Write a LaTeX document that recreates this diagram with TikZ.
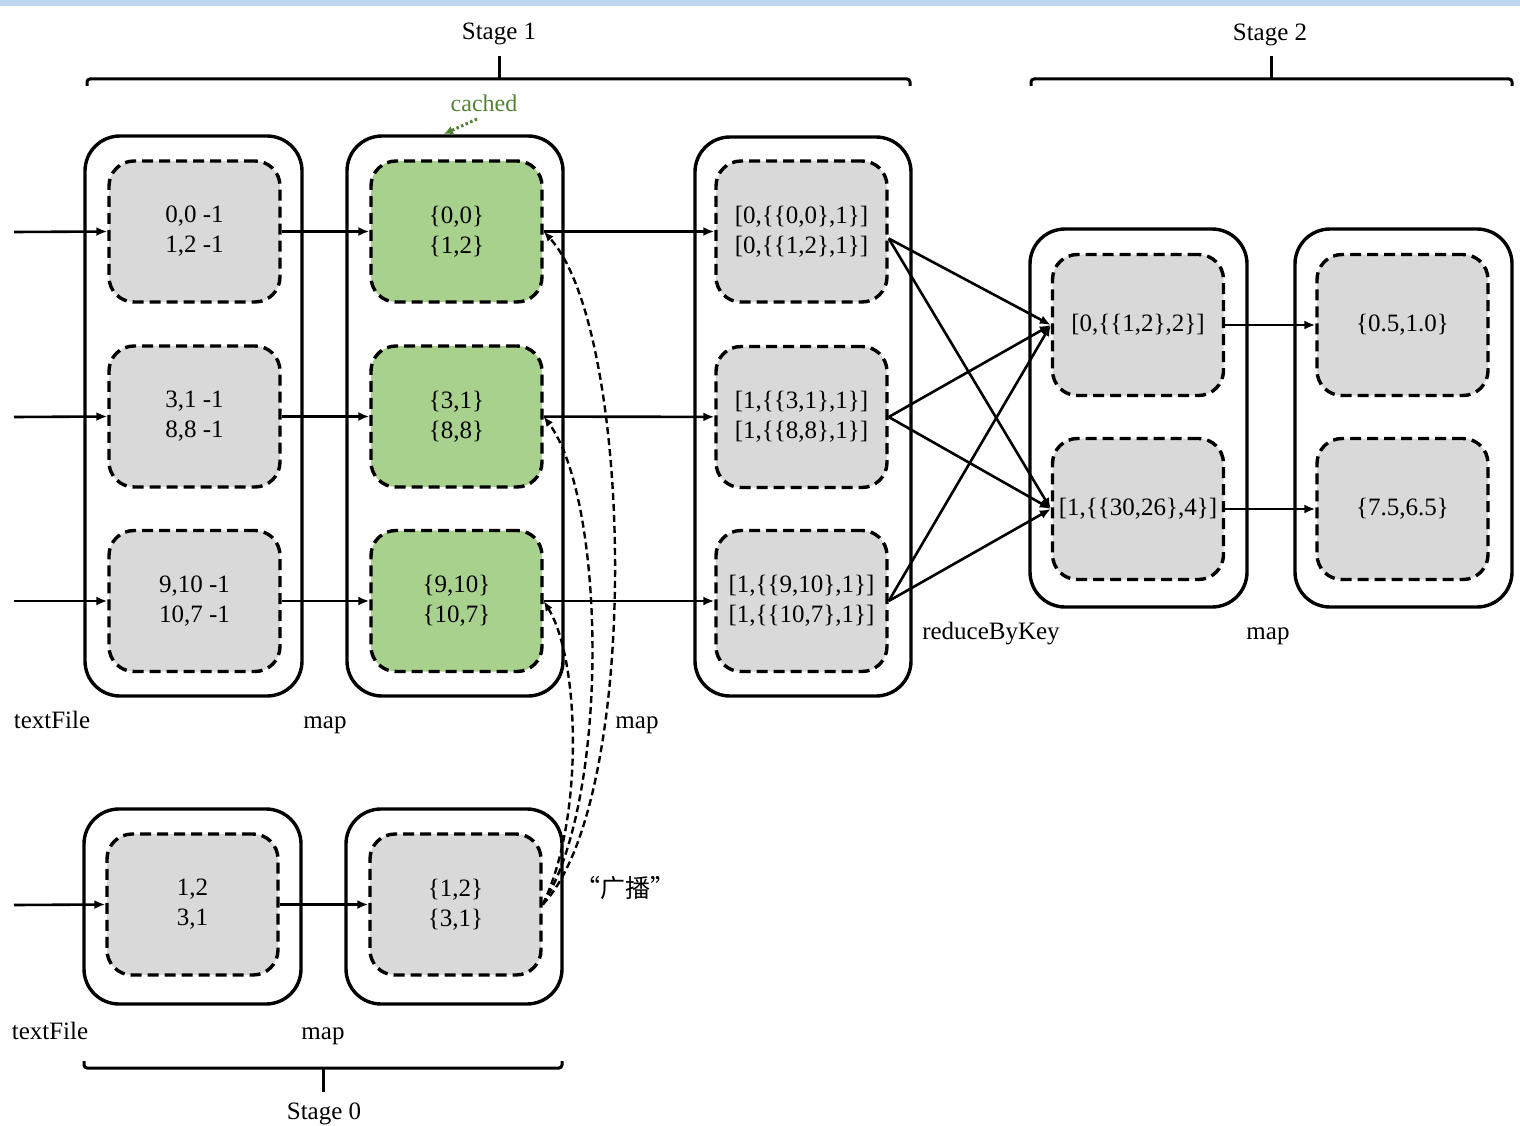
\documentclass[tikz,border=0pt]{standalone}
\usepackage{fontspec}
\setmainfont{Liberation Serif}
\newfontfamily\cjkfont{Noto Sans CJK SC}
\usetikzlibrary{arrows.meta,calc}
\definecolor{gfill}{HTML}{A9D18E}
\definecolor{grayfill}{HTML}{D9D9D9}
\definecolor{gtext}{HTML}{548235}
\definecolor{bandblue}{HTML}{BDD7EE}
\newcommand\dfont{\fontsize{25}{30}\selectfont}
\begin{document}
\begin{tikzpicture}[x=1pt,y=-1pt,
  outerbox/.style={draw, line width=3.4pt, rounded corners=35pt, inner sep=0pt},
  innerbox/.style={draw, line width=3.4pt, dash pattern=on 11pt off 6pt, rounded corners=25pt,
    fill=grayfill, minimum width=171pt, minimum height=141pt, align=center, font=\dfont, inner sep=0pt},
  greenbox/.style={innerbox, fill=gfill},
  lbl/.style={font=\dfont, inner sep=0pt, anchor=base},
  arr/.style={line width=2.6pt, -{Latex[length=11pt,width=9pt]}},
  darr/.style={line width=2.4pt, dash pattern=on 7pt off 4pt, -{Latex[length=10pt,width=8pt]}},
  bracket/.style={line width=3pt, rounded corners=3pt}
]
\useasboundingbox (0,0) rectangle (1520,1126);
\fill[bandblue] (0,0) rectangle (1520,6);

% outer boxes
\node[outerbox, minimum width=217pt, minimum height=560pt] (o1) at (193.5,416) {};
\node[outerbox, minimum width=216pt, minimum height=560pt] (o2) at (455,416) {};
\node[outerbox, minimum width=216pt, minimum height=559pt] (o3) at (803,416.5) {};
\node[outerbox, minimum width=217pt, minimum height=378pt] (oA) at (1138.5,418) {};
\node[outerbox, minimum width=217pt, minimum height=378pt] (oB) at (1403.5,418) {};
\node[outerbox, minimum width=217pt, minimum height=195pt] (ob1) at (192.5,906.5) {};
\node[outerbox, minimum width=216pt, minimum height=195pt] (ob2) at (454,906.5) {};

% inner boxes
\node[innerbox] (r1) at (194.5,231.5) {0,0 -1\\1,2 -1};
\node[innerbox] (r2) at (194.5,416.5) {3,1 -1\\8,8 -1};
\node[innerbox] (r3) at (194.5,601) {9,10 -1\\10,7 -1};
\node[greenbox] (g1) at (456.5,231.5) {\{0,0\}\\\{1,2\}};
\node[greenbox] (g2) at (456.5,416.5) {\{3,1\}\\\{8,8\}};
\node[greenbox] (g3) at (456.5,601) {\{9,10\}\\\{10,7\}};
\node[innerbox] (c1) at (801.5,231.5) {[0,\{\{0,0\},1\}]\\{}[0,\{\{1,2\},1\}]};
\node[innerbox] (c2) at (801.5,417) {[1,\{\{3,1\},1\}]\\{}[1,\{\{8,8\},1\}]};
\node[innerbox] (c3) at (801.5,601) {[1,\{\{9,10\},1\}]\\{}[1,\{\{10,7\},1\}]};
\node[innerbox] (a1) at (1138,325) {[0,\{\{1,2\},2\}]};
\node[innerbox] (a2) at (1138,509) {[1,\{\{30,26\},4\}]};
\node[innerbox] (b1) at (1402.5,325) {\{0.5,1.0\}};
\node[innerbox] (b2) at (1402.5,509) {\{7.5,6.5\}};
\node[innerbox] (s1) at (192.5,904.5) {1,2\\3,1};
\node[innerbox] (s2) at (455.5,904.5) {\{1,2\}\\\{3,1\}};

% inputs
\coordinate (i1) at (14,232);
\coordinate (i2) at (14,417);
\coordinate (i3) at (14,601);
\coordinate (i4) at (14,905);
\draw[arr] (i1) -- (r1.west);
\draw[arr] (i2) -- (r2.west);
\draw[arr] (i3) -- (r3.west);
\draw[arr] (i4) -- (s1.west);
\draw[arr] (r1) -- (g1);
\draw[arr] (r2) -- (g2);
\draw[arr] (r3) -- (g3);
\draw[arr] (g1) -- (c1);
\draw[arr] (g2) -- (c2);
\draw[arr] (g3) -- (c3);
\draw[arr] (s1) -- (s2);
\draw[arr] (a1) -- (b1);
\draw[arr] (a2) -- (b2);

% shuffle
\draw[arr] ([yshift=-7pt]c1.east) -- (a1.west);
\draw[arr] ([yshift=-7pt]c1.east) -- (a2.west);
\draw[arr] (c2.east) -- (a1.west);
\draw[arr] (c2.east) -- (a2.west);
\draw[arr] (c3.east) -- (a1.west);
\draw[arr] (c3.east) -- (a2.west);

% broadcast curves
\draw[darr] (s2.east) .. controls (642,800) and (634,330) .. (g1.east);
\draw[darr] (s2.east) .. controls (610,800) and (606,500) .. (g2.east);
\draw[darr] (s2.east) .. controls (584,820) and (580,660) .. (g3.east);

% cached
\node[font=\fontsize{24}{28}\selectfont, text=gtext, inner sep=0pt, anchor=base] (cached) at (484,112) {cached};
\coordinate (cs) at (477,119);
\draw[gtext, line width=3pt, dash pattern=on 2.5pt off 2.5pt, -{Latex[length=9pt,width=9pt]}] (cs) -- (444,134);

% labels
\node[lbl] (l1) at (52,728) {textFile};
\node[lbl] (l2) at (325,728) {map};
\node[lbl] (l3) at (637,728) {map};
\node[lbl] (l4) at (991,639) {reduceByKey};
\node[lbl] (l5) at (1268,639) {map};
\node[lbl] (l6) at (50,1039) {textFile};
\node[lbl] (l7) at (323,1039) {map};
\node[font=\cjkfont\fontsize{25}{28}\selectfont, inner sep=0pt] (bc) at (625,888) {“广播”};

% stages
\node[lbl] (st1) at (499,40) {Stage 1};
\node[lbl] (st2) at (1270,41) {Stage 2};
\node[lbl] (st0) at (324,1119) {Stage 0};
\draw[bracket] (87,86) -- (87,79) -- (910,79) -- (910,86);
\draw[line width=3pt] (499,79) -- (499,56);
\draw[bracket] (1031,86) -- (1031,79) -- (1512,79) -- (1512,86);
\draw[line width=3pt] (1271,79) -- (1271,56);
\draw[bracket] (84,1061) -- (84,1068) -- (562,1068) -- (562,1061);
\draw[line width=3pt] (323,1068) -- (323,1092);
\end{tikzpicture}
\end{document}
